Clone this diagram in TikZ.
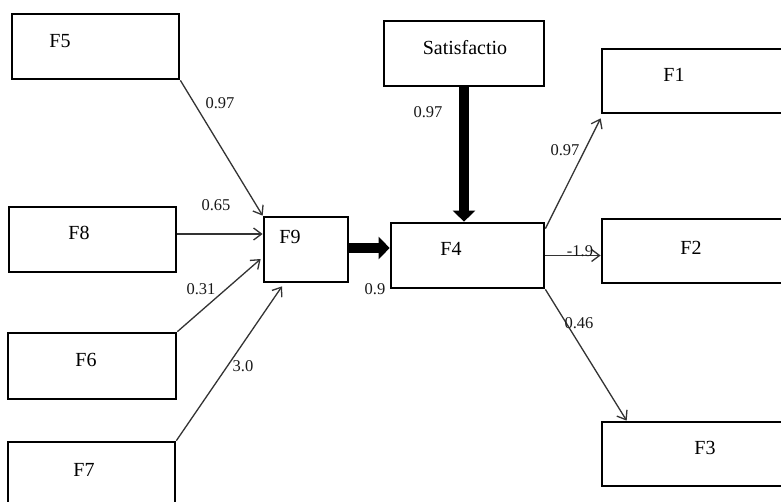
\documentclass[tikz,border=0pt]{standalone}
\usepackage{fontspec}
\setmainfont{Liberation Serif}
\usetikzlibrary{arrows.meta}
\begin{document}
\begin{tikzpicture}[x=1pt,y=-1pt,
  box/.style={draw=black,line width=2.7pt,inner sep=0pt,fill=white},
  boxtext/.style={font=\fontsize{20}{20}\selectfont,inner sep=0pt},
  wt/.style={font=\fontsize{16.5}{16.5}\selectfont,inner sep=0pt,text=black!90},
  arr/.style={draw=black!80,line width=1.3pt,-{Straight Barb[length=8pt,width=12pt]}},
  heavyarr/.style={draw=black,line width=10pt,-{Triangle[length=11pt,width=22pt]}}]
\useasboundingbox (0,0) rectangle (781,502);
\clip (0,0) rectangle (781,502);
\fill[white] (0,0) rectangle (781,502);
% boxes
\node[box,minimum width=167pt,minimum height=65pt] (f5) at (95.5,46.5) {};
\node[box,minimum width=167pt,minimum height=65pt] (f8) at (92.5,239.5) {};
\node[box,minimum width=84pt,minimum height=65pt] (f9) at (306,249.5) {};
\node[box,minimum width=168pt,minimum height=66pt] (f6) at (92,366) {};
\node[box,minimum width=167pt,minimum height=65pt] (f7) at (91.5,474.5) {};
\node[box,minimum width=160pt,minimum height=65pt] (sat) at (464,53.5) {};
\node[box,minimum width=190pt,minimum height=64pt] (f1) at (697,81) {};
\node[box,minimum width=190pt,minimum height=64pt] (f2) at (697,251) {};
\node[box,minimum width=153pt,minimum height=65pt] (f4) at (467.5,255.5) {};
\node[box,minimum width=190pt,minimum height=64pt] (f3) at (697,454) {};
% box texts
\node[boxtext] (t5) at (60,41) {F5};
\node[boxtext] (t8) at (79,233) {F8};
\node[boxtext] (t9) at (290,237) {F9};
\node[boxtext] (t6) at (86,360) {F6};
\node[boxtext] (t7) at (84,470) {F7};
\node[boxtext] (ts) at (465,48) {Satisfactio};
\node[boxtext] (t1) at (674,75) {F1};
\node[boxtext] (t2) at (691,248) {F2};
\node[boxtext] (t4) at (451,249) {F4};
\node[boxtext] (t3) at (705,448) {F3};
% connectors
\draw[arr] (f5.south east) -- (f9.north west);
\draw[arr] ([yshift=5.5pt]f8.east) -- ([yshift=5.5pt]f8.east -| f9.west);
\draw[arr] (f6.north east) -- ([xshift=-2pt,yshift=-9.5pt]f9.west);
\draw[arr] (f7.north east) -- ([xshift=-24pt,yshift=-3pt]f9.south);
\draw[heavyarr] ([yshift=1.5pt]f9.east) -- ([yshift=1.5pt]f9.east -| f4.west);
\draw[heavyarr] (sat.south) -- (sat.south |- f4.north);
\draw[arr] ([yshift=-7pt]f4.north east) -- ([yshift=-4pt]f1.south west);
\draw[arr] (f4.east) -- (f4.east -| f2.west);
\draw[arr] (f4.south east) -- ([xshift=26pt]f3.north west);
% weights
\node[wt] (w1) at (220,103) {0.97};
\node[wt] (w2) at (216,205) {0.65};
\node[wt] (w3) at (201,289) {0.31};
\node[wt] (w4) at (243,366) {3.0};
\node[wt] (w5) at (375,289) {0.9};
\node[wt] (w6) at (428,112) {0.97};
\node[wt] (w7) at (565,150) {0.97};
\node[wt] (w8) at (580,251) {-1.9};
\node[wt] (w9) at (579,323) {0.46};
\end{tikzpicture}
\end{document}
